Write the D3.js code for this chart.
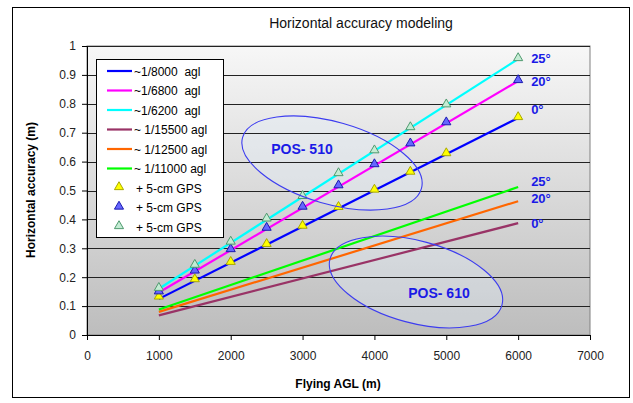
<!DOCTYPE html>
<html><head><meta charset="utf-8">
<script src="https://cdn.jsdelivr.net/npm/d3@7"></script>
<style>
body{margin:0;background:#fff;}
svg text{font-family:"Liberation Sans",Arial,sans-serif;white-space:pre;}
</style></head><body>
<svg id="c" width="633" height="403"></svg>
<script>
// ---- data ----
const xTicks = [0,1000,2000,3000,4000,5000,6000,7000];
const yTicks = [0,0.1,0.2,0.3,0.4,0.5,0.6,0.7,0.8,0.9,1];
const lineX = [1000, 6000];
const lineNames = ["~1/8000  agl","~1/6800  agl","~1/6200  agl","~ 1/15500 agl","~ 1/12500 agl","~ 1/11000 agl"];
const lineColors = ["#0000ff","#ff00ff","#00ffff","#993366","#ff6600","#00ff00"];
const line8000 = [0.125, 0.751];
const line6800 = [0.147, 0.879];
const line6200 = [0.160, 0.955];
const line15500 = [0.068, 0.387];
const line12500 = [0.080, 0.463];
const line11000 = [0.088, 0.512];
const lineValues = [line8000, line6800, line6200, line15500, line12500, line11000];
const gpsX = [1000,1500,2000,2500,3000,3500,4000,4500,5000,6000];
const gps0 = [0.130,0.190,0.250,0.312,0.375,0.440,0.500,0.562,0.626,0.751];
const gps20 = [0.148,0.220,0.294,0.368,0.441,0.515,0.588,0.660,0.733,0.879];
const gps25 = [0.160,0.240,0.320,0.400,0.478,0.557,0.636,0.716,0.795,0.955];
const gpsNames = ["+ 5-cm GPS","+ 5-cm GPS","+ 5-cm GPS"];
const gpsFill = ["#ffff00","#6666ff","#c4ecd4"];
const gpsStroke = ["#a8a800","#1a1ab0","#4f9a6e"];
const gpsValues = [gps0, gps20, gps25];
const angleLabels = ["0°","20°","25°","0°","20°","25°"];

// ---- layout ----
const svg = d3.select("#c");
const L=87, R=590, T=46, B=335;
const x = d3.scaleLinear().domain([0,7000]).range([L,R]);
const y = d3.scaleLinear().domain([0,1]).range([B,T]);

svg.append("rect").attr("x",12.5).attr("y",7.5).attr("width",617).attr("height",390)
  .attr("fill","#fff").attr("stroke","#000");

const defs = svg.append("defs");
const g = defs.append("linearGradient").attr("id","bg").attr("x1",0).attr("y1",0).attr("x2",0).attr("y2",1);
g.append("stop").attr("offset","0%").attr("stop-color","#f7f7f7");
g.append("stop").attr("offset","100%").attr("stop-color","#bdbdbd");

svg.append("rect").attr("x",L).attr("y",T).attr("width",R-L).attr("height",B-T)
  .attr("fill","url(#bg)").attr("stroke","#808080");

// ellipses (fill under the data)
const ell = [
  {cx:332, cy:163, rx:93, ry:41, rot:16, label:"POS- 510", lx:302, ly:154},
  {cx:416, cy:282, rx:89, ry:41, rot:15, label:"POS- 610", lx:439, ly:298}
];
ell.forEach(e=>{
  svg.append("ellipse").attr("cx",0).attr("cy",0).attr("rx",e.rx).attr("ry",e.ry)
    .attr("transform",`translate(${e.cx},${e.cy}) rotate(${e.rot})`)
    .attr("fill","rgba(225,238,250,0.35)").attr("stroke","none");
});

// gridlines
svg.append("g").selectAll("line").data(yTicks.filter(d=>d>0)).join("line")
  .attr("x1",L).attr("x2",R).attr("y1",d=>Math.round(y(d))+0.5).attr("y2",d=>Math.round(y(d))+0.5)
  .attr("stroke","#222").attr("stroke-width",1);

// axes
const yAxis = svg.append("g").attr("transform",`translate(${L},0)`)
  .call(d3.axisLeft(y).tickValues(yTicks).tickFormat(d3.format("~g")).tickSize(5).tickPadding(6));
const xAxis = svg.append("g").attr("transform",`translate(0,${B})`)
  .call(d3.axisBottom(x).tickValues(xTicks).tickFormat(d3.format("d")).tickSize(5).tickPadding(11));
[yAxis,xAxis].forEach(a=>{
  a.select(".domain").attr("stroke","#000");
  a.selectAll(".tick line").attr("stroke","#000");
  a.selectAll("text").attr("font-size",12).attr("fill","#222")
   .attr("font-family","'Liberation Sans',Arial,sans-serif");
});

// lines
const lineGen = d3.line().x((d,i)=>x(lineX[i])).y(d=>y(d));
lineValues.forEach((vals,i)=>{
  svg.append("path").datum(vals).attr("d",lineGen).attr("fill","none")
    .attr("stroke",lineColors[i]).attr("stroke-width",2.2);
});

// markers
const tri = d3.symbol().type(d3.symbolTriangle).size(36);
gpsValues.forEach((vals,k)=>{
  svg.append("g").selectAll("path").data(vals).join("path")
    .attr("d",tri).attr("transform",(d,i)=>`translate(${x(gpsX[i])},${y(d)-1})`)
    .attr("fill",gpsFill[k]).attr("stroke",gpsStroke[k]).attr("stroke-width",1);
});

// ellipse outlines and labels
ell.forEach(e=>{
  svg.append("ellipse").attr("cx",0).attr("cy",0).attr("rx",e.rx).attr("ry",e.ry)
    .attr("transform",`translate(${e.cx},${e.cy}) rotate(${e.rot})`)
    .attr("fill","none").attr("stroke","#3d3df0").attr("stroke-width",1.1);
  svg.append("text").attr("x",e.lx).attr("y",e.ly).attr("text-anchor","middle")
    .attr("font-size",14).attr("font-weight","bold").attr("fill","#1a1ae6").text(e.label);
});

// angle labels
const angleVals = [line8000[1], line6800[1], line6200[1], line15500[1], line12500[1], line11000[1]];
const angleDy = [-4,5,4,5,2,-1];
angleLabels.forEach((t,i)=>{
  svg.append("text").attr("x",x(6000)+13).attr("y",y(angleVals[i])+angleDy[i])
    .attr("font-size",13).attr("font-weight","bold").attr("fill","#1a1ae6").text(t);
});

// legend
const lg = svg.append("g");
lg.append("rect").attr("x",96.5).attr("y",59.5).attr("width",127).attr("height",178)
  .attr("fill","#fff").attr("stroke","#000");
const rowY = i=>71+i*19.5;
lineNames.forEach((n,i)=>{
  lg.append("line").attr("x1",107).attr("x2",132).attr("y1",rowY(i)).attr("y2",rowY(i))
    .attr("stroke",lineColors[i]).attr("stroke-width",2.2);
  lg.append("text").attr("x",134).attr("y",rowY(i)+4.5).attr("font-size",12).attr("fill","#000").text(n);
});
gpsNames.forEach((n,k)=>{
  const i=6+k;
  lg.append("path").attr("d",tri).attr("transform",`translate(119,${rowY(i)-1})`)
    .attr("fill",gpsFill[k]).attr("stroke",gpsStroke[k]);
  lg.append("text").attr("x",136).attr("y",rowY(i)+4.5).attr("font-size",12).attr("fill","#000").text(n);
});

// titles
svg.append("text").attr("x",361).attr("y",28).attr("text-anchor","middle")
  .attr("font-size",14).attr("fill","#111").text("Horizontal accuracy modeling");
svg.append("text").attr("x",338).attr("y",388).attr("text-anchor","middle")
  .attr("font-size",12).attr("font-weight","bold").attr("fill","#000").text("Flying AGL (m)");
svg.append("text").attr("transform","translate(35,190) rotate(-90)").attr("text-anchor","middle")
  .attr("font-size",12).attr("font-weight","bold").attr("fill","#000").text("Horizontal accuracy (m)");
</script></body></html>
